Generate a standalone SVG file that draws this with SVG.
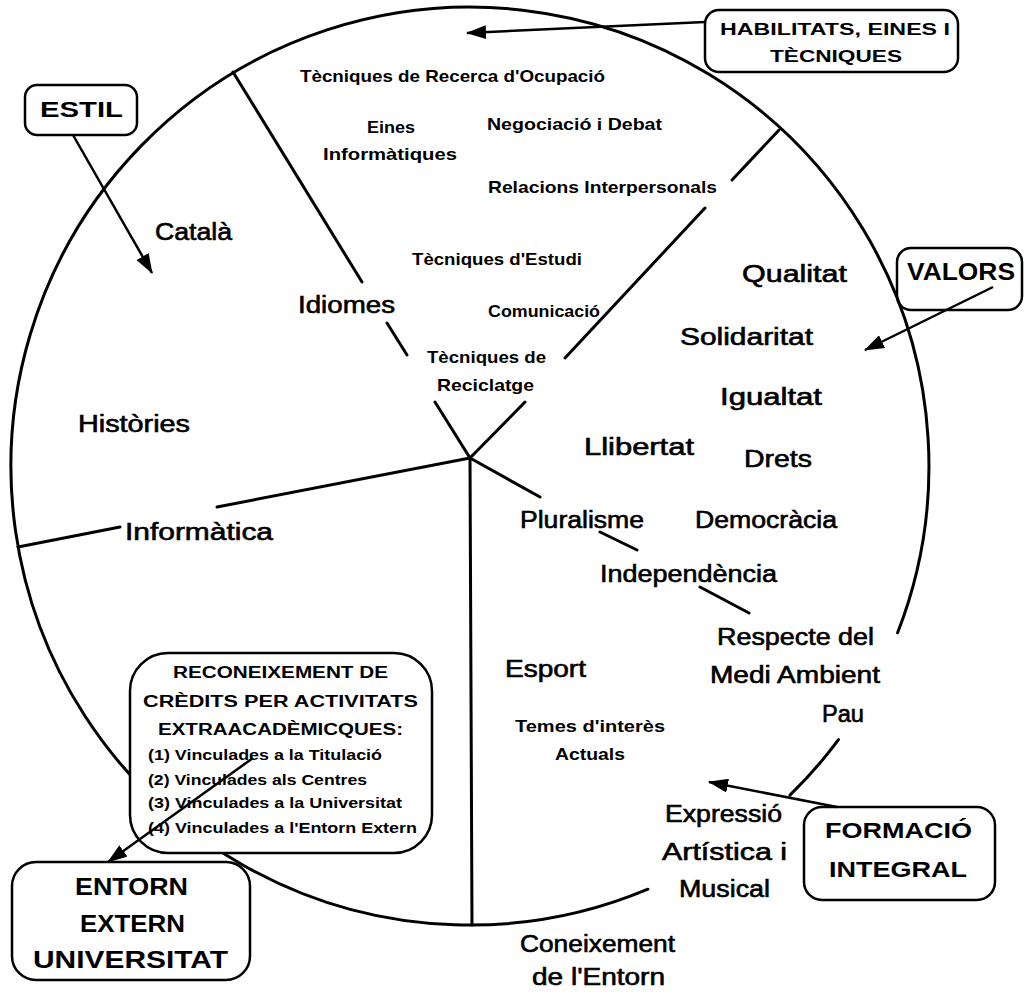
<svg xmlns="http://www.w3.org/2000/svg" width="1024" height="993" viewBox="0 0 1024 993">
<style>
text{font-family:"Liberation Sans",Arial,sans-serif;fill:#000}
.big{font-size:23px;stroke:#000;stroke-width:0.6}
.sm{font-size:17px;font-weight:bold}
.bx{font-weight:bold}
.ln{stroke:#000;stroke-width:3;fill:none;stroke-linecap:round}
.ar{stroke:#000;stroke-width:2.5;fill:none;marker-end:url(#ah)}
.box{stroke:#000;stroke-width:2.5;fill:none}
.boxw{stroke:#000;stroke-width:2.5;fill:#fff}
</style>
<defs>
<marker id="ah" markerUnits="userSpaceOnUse" markerWidth="20" markerHeight="14" refX="19" refY="7" orient="auto">
<path d="M0,0 L20,7 L0,14 z" fill="#000"/>
</marker>
</defs>
<rect width="1024" height="993" fill="#fff"/>
<g id="circle">
<path class="ln" d="M 647.9 889.2 A 459 459 0 1 1 897.6 632.8"/>
<path class="ln" d="M 838.5 739.7 A 459 459 0 0 1 790 795.1"/>
</g>
<g id="connectors">
<path class="ln" d="M233 72 L362 282 M387 323 L407 355 M435 402 L470 458"/>
<path class="ln" d="M470 458 L525 402 M565 358 L705 208 M732 180 L779 130"/>
<path class="ln" d="M470 458 L217 507 M120 527 L18 547"/>
<path class="ln" d="M470 458 L540 497 M600 532 L637 550 M700 587 L749 613"/>
<path class="ln" d="M470 458 L472 925"/>
<line class="ar" x1="73" y1="135" x2="152" y2="273"/>
<line class="ar" x1="705" y1="22" x2="467" y2="33"/>
<line class="ar" x1="993" y1="287" x2="865" y2="350"/>
<line class="ar" x1="837" y1="807" x2="709" y2="782"/>
</g>
<g id="estil">
<rect class="box" x="25" y="85" width="112" height="50" rx="12"/>
<text class="bx" x="40" y="117" font-size="22" textLength="83" lengthAdjust="spacingAndGlyphs">ESTIL</text>
</g>
<g id="habilitats">
<rect class="box" x="705" y="10" width="253" height="62" rx="14"/>
<text class="bx" x="720" y="35" font-size="17" textLength="230" lengthAdjust="spacingAndGlyphs">HABILITATS, EINES I</text>
<text class="bx" x="770" y="62" font-size="17" textLength="132" lengthAdjust="spacingAndGlyphs">TÈCNIQUES</text>
</g>
<g id="valors">
<rect class="box" x="897" y="248" width="125" height="62" rx="14"/>
<text class="bx" x="907" y="280" font-size="24" textLength="108" lengthAdjust="spacingAndGlyphs">VALORS</text>
</g>
<g id="formacio">
<rect class="box" x="804" y="807" width="191" height="93" rx="18"/>
<text class="bx" x="825" y="838" font-size="22" textLength="147" lengthAdjust="spacingAndGlyphs">FORMACIÓ</text>
<text class="bx" x="829" y="877" font-size="22" textLength="138" lengthAdjust="spacingAndGlyphs">INTEGRAL</text>
</g>
<g id="reconeixement">
<rect class="boxw" x="130" y="653" width="302" height="200" rx="38"/>
<text class="bx" x="173" y="678" font-size="16" textLength="215" lengthAdjust="spacingAndGlyphs">RECONEIXEMENT DE</text>
<text class="bx" x="143" y="707" font-size="16" textLength="275" lengthAdjust="spacingAndGlyphs">CRÈDITS PER ACTIVITATS</text>
<text class="bx" x="158" y="735" font-size="16" textLength="245" lengthAdjust="spacingAndGlyphs">EXTRAACADÈMICQUES:</text>
<text class="bx" x="148" y="760" font-size="15" textLength="234" lengthAdjust="spacingAndGlyphs">(1) Vinculades a la Titulació</text>
<text class="bx" x="148" y="785" font-size="15" textLength="219" lengthAdjust="spacingAndGlyphs">(2) Vinculades als Centres</text>
<text class="bx" x="148" y="808" font-size="15" textLength="254" lengthAdjust="spacingAndGlyphs">(3) Vinculades a la Universitat</text>
<text class="bx" x="148" y="833" font-size="15" textLength="269" lengthAdjust="spacingAndGlyphs">(4) Vinculades a l'Entorn Extern</text>
<line class="ar" x1="253" y1="758" x2="108" y2="862"/>
</g>
<g id="entorn">
<rect class="box" x="12" y="862" width="238" height="118" rx="24"/>
<text class="bx" x="75" y="895" font-size="24" textLength="113" lengthAdjust="spacingAndGlyphs">ENTORN</text>
<text class="bx" x="80" y="932" font-size="24" textLength="105" lengthAdjust="spacingAndGlyphs">EXTERN</text>
<text class="bx" x="33" y="968" font-size="24" textLength="195" lengthAdjust="spacingAndGlyphs">UNIVERSITAT</text>
</g>
<g id="habilitats-items">
<text class="sm" x="300" y="82" textLength="305" lengthAdjust="spacingAndGlyphs">Tècniques de Recerca d'Ocupació</text>
<text class="sm" x="367" y="133" textLength="48" lengthAdjust="spacingAndGlyphs">Eines</text>
<text class="sm" x="323" y="160" textLength="134" lengthAdjust="spacingAndGlyphs">Informàtiques</text>
<text class="sm" x="487" y="130" textLength="175" lengthAdjust="spacingAndGlyphs">Negociació i Debat</text>
<text class="sm" x="488" y="193" textLength="229" lengthAdjust="spacingAndGlyphs">Relacions Interpersonals</text>
<text class="sm" x="412" y="265" textLength="170" lengthAdjust="spacingAndGlyphs">Tècniques d'Estudi</text>
<text class="sm" x="488" y="317" textLength="112" lengthAdjust="spacingAndGlyphs">Comunicació</text>
<text class="sm" x="427" y="363" textLength="119" lengthAdjust="spacingAndGlyphs">Tècniques de</text>
<text class="sm" x="437" y="391" textLength="97" lengthAdjust="spacingAndGlyphs">Reciclatge</text>
</g>
<g id="estil-items">
<text class="big" x="155" y="240" textLength="77" lengthAdjust="spacingAndGlyphs">Català</text>
<text class="big" x="298" y="313" textLength="97" lengthAdjust="spacingAndGlyphs">Idiomes</text>
<text class="big" x="78" y="432" textLength="112" lengthAdjust="spacingAndGlyphs">Històries</text>
<text class="big" x="125" y="540" textLength="148" lengthAdjust="spacingAndGlyphs">Informàtica</text>
</g>
<g id="valors-items">
<text class="big" x="742" y="282" textLength="105" lengthAdjust="spacingAndGlyphs">Qualitat</text>
<text class="big" x="680" y="345" textLength="133" lengthAdjust="spacingAndGlyphs">Solidaritat</text>
<text class="big" x="720" y="405" textLength="102" lengthAdjust="spacingAndGlyphs">Igualtat</text>
<text class="big" x="584" y="455" textLength="110" lengthAdjust="spacingAndGlyphs">Llibertat</text>
<text class="big" x="744" y="467" textLength="68" lengthAdjust="spacingAndGlyphs">Drets</text>
<text class="big" x="520" y="528" textLength="124" lengthAdjust="spacingAndGlyphs">Pluralisme</text>
<text class="big" x="695" y="528" textLength="142" lengthAdjust="spacingAndGlyphs">Democràcia</text>
<text class="big" x="600" y="582" textLength="177" lengthAdjust="spacingAndGlyphs">Independència</text>
<text class="big" x="717" y="645" textLength="157" lengthAdjust="spacingAndGlyphs">Respecte del</text>
<text class="big" x="710" y="683" textLength="170" lengthAdjust="spacingAndGlyphs">Medi Ambient</text>
<text class="big" x="822" y="722" textLength="42" lengthAdjust="spacingAndGlyphs">Pau</text>
</g>
<g id="formacio-items">
<text class="big" x="505" y="677" textLength="81" lengthAdjust="spacingAndGlyphs">Esport</text>
<text class="sm" x="515" y="732" textLength="150" lengthAdjust="spacingAndGlyphs">Temes d'interès</text>
<text class="sm" x="555" y="760" textLength="70" lengthAdjust="spacingAndGlyphs">Actuals</text>
<text class="big" x="665" y="822" textLength="117" lengthAdjust="spacingAndGlyphs">Expressió</text>
<text class="big" x="662" y="860" textLength="125" lengthAdjust="spacingAndGlyphs">Artística i</text>
<text class="big" x="679" y="897" textLength="91" lengthAdjust="spacingAndGlyphs">Musical</text>
<text class="big" x="520" y="952" textLength="155" lengthAdjust="spacingAndGlyphs">Coneixement</text>
<text class="big" x="532" y="985" textLength="133" lengthAdjust="spacingAndGlyphs">de l'Entorn</text>
</g>
</svg>
